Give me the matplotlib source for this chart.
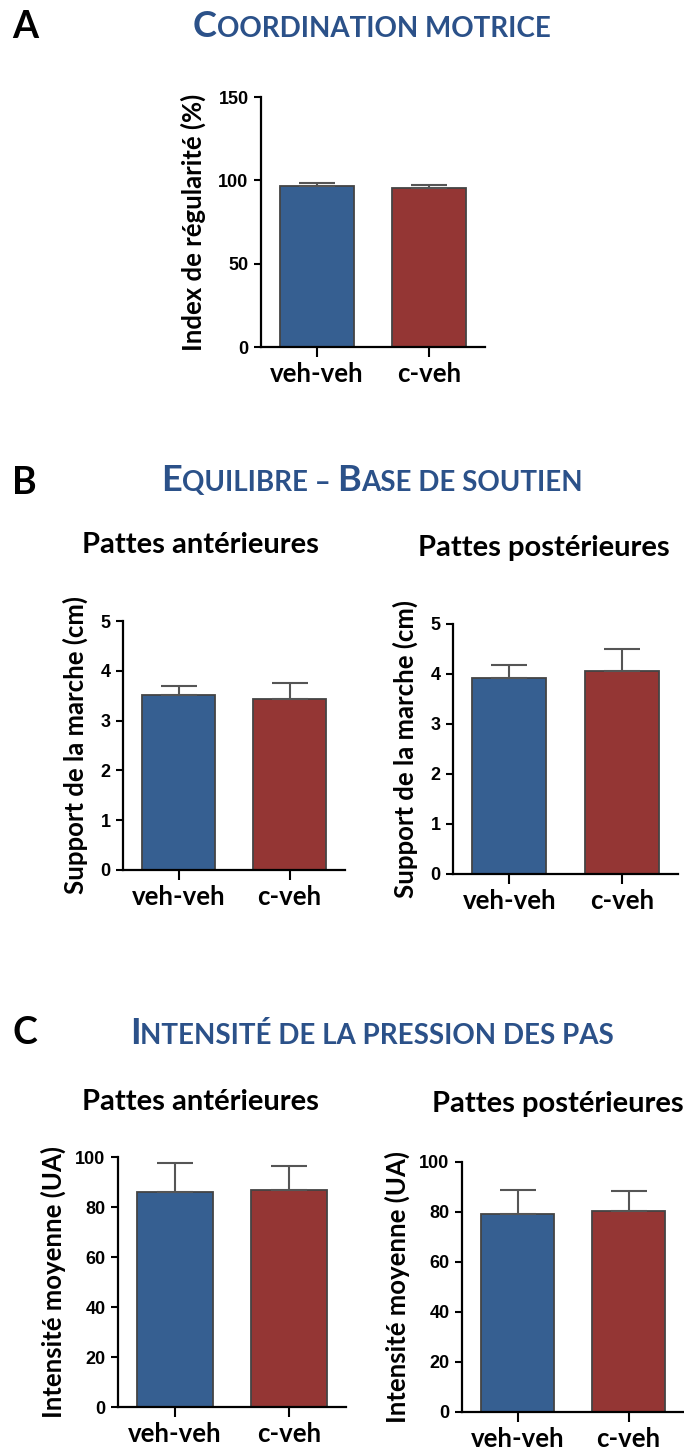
import numpy as np
import matplotlib
matplotlib.use('Agg')
import matplotlib.pyplot as plt

# --- data ---------------------------------------------------------------------
groups = ['veh-veh', 'c-veh']

# A: coordination motrice, index de regularite (%)
reg_mean = [96.5, 95.3]
reg_err  = [2.0, 2.2]

# B: base de soutien (cm)
bos_ant_mean = [3.52, 3.43]
bos_ant_err  = [0.17, 0.32]
bos_post_mean = [3.92, 4.06]
bos_post_err  = [0.26, 0.44]

# C: intensite moyenne (UA)
int_ant_mean = [86.0, 86.8]
int_ant_err  = [11.6, 9.6]
int_post_mean = [79.2, 80.4]
int_post_err  = [9.6, 8.0]

blue = '#365f91'
red = '#943634'
title_blue = '#2b5189'
W, H = 684, 1452

plt.rcParams['font.family'] = ['Lato', 'DejaVu Sans']
fig = plt.figure(figsize=(W/100, H/100), dpi=100)
fig.patch.set_facecolor('white')


def ax_px(x0, ytop, x1, ybot):
    return fig.add_axes([x0/W, 1 - ybot/H, (x1 - x0)/W, (ybot - ytop)/H])


def bar_panel(ax, means, errs, ymax, ystep, ylabel, labelpad):
    x = np.arange(len(groups))
    ax.bar(x, means, width=0.66, color=[blue, red], edgecolor='#444444',
           linewidth=1.3, zorder=2)
    ax.errorbar(x, means, yerr=[np.zeros(len(errs)), errs], fmt='none',
                ecolor='#555555', elinewidth=1.5, capsize=13, capthick=1.5,
                zorder=3)
    ax.set_xlim(-0.5, 1.5)
    ax.set_ylim(0, ymax)
    ax.set_yticks(np.arange(0, ymax + ystep/2, ystep))
    ax.set_xticks(x)
    ax.set_xticklabels(groups, fontsize=18.5, fontweight='bold')
    for lab in ax.get_yticklabels():
        lab.set_family('Liberation Sans')
        lab.set_fontweight('bold')
        lab.set_fontsize(13)
    ax.tick_params(axis='y', direction='out', length=5, width=1.5, pad=4,
                   colors='black')
    ax.tick_params(axis='x', direction='out', length=7, width=1.5, pad=4)
    for s in ['top', 'right']:
        ax.spines[s].set_visible(False)
    for s in ['left', 'bottom']:
        ax.spines[s].set_linewidth(1.6)
    ax.set_ylabel(ylabel, fontsize=18.5, fontweight='bold', labelpad=labelpad)
    ax.patch.set_alpha(0)


renderer = fig.canvas.get_renderer()


def small_caps(parts, cx, baseline, big=26, small=20):
    # parts: list of (text, is_big)
    texts = []
    for txt, is_big in parts:
        t = fig.text(0, 1 - baseline/H, txt, fontsize=big if is_big else small,
                     fontweight='bold', color=title_blue, va='baseline',
                     ha='left')
        texts.append(t)
    widths = [t.get_window_extent(renderer).width for t in texts]
    x = cx - sum(widths)/2
    for t, w in zip(texts, widths):
        t.set_x(x/W)
        x += w


def panel_letter(letter, x, baseline):
    fig.text(x/W, 1 - baseline/H, letter, fontsize=27, fontweight='bold',
             va='baseline', ha='left', color='black')


def subtitle(txt, cx, baseline):
    fig.text(cx/W, 1 - baseline/H, txt, fontsize=21, fontweight='bold',
             va='baseline', ha='center', color='black')


# --- A ------------------------------------------------------------------------
panel_letter('A', 12, 38)
small_caps([('C', True), ('OORDINATION MOTRICE', False)], 372, 37)
axA = ax_px(261, 97, 485, 347)
bar_panel(axA, reg_mean, reg_err, 150, 50, 'Index de régularité (%)', 9)

# --- B ------------------------------------------------------------------------
panel_letter('B', 12, 494)
small_caps([('E', True), ('QUILIBRE – ', False), ('B', True),
            ('ASE DE SOUTIEN', False)], 372, 491)
subtitle('Pattes antérieures', 200, 553)
subtitle('Pattes postérieures', 544, 556)
axB1 = ax_px(123, 621, 345, 870)
bar_panel(axB1, bos_ant_mean, bos_ant_err, 5, 1, 'Support de la marche (cm)', 9)
axB2 = ax_px(453, 624, 678, 874)
bar_panel(axB2, bos_post_mean, bos_post_err, 5, 1, 'Support de la marche (cm)', 9)

# --- C ------------------------------------------------------------------------
panel_letter('C', 12, 1044)
small_caps([('I', True), ('NTENSITÉ DE LA PRESSION DES PAS', False)], 372, 1044)
subtitle('Pattes antérieures', 200, 1110)
subtitle('Pattes postérieures', 558, 1112)
axC1 = ax_px(118, 1157, 346, 1407)
bar_panel(axC1, int_ant_mean, int_ant_err, 100, 20, 'Intensité moyenne (UA)', 7)
axC2 = ax_px(462, 1162, 684, 1412)
bar_panel(axC2, int_post_mean, int_post_err, 100, 20, 'Intensité moyenne (UA)', 7)

fig.savefig('out.png', dpi=100, facecolor='white')
